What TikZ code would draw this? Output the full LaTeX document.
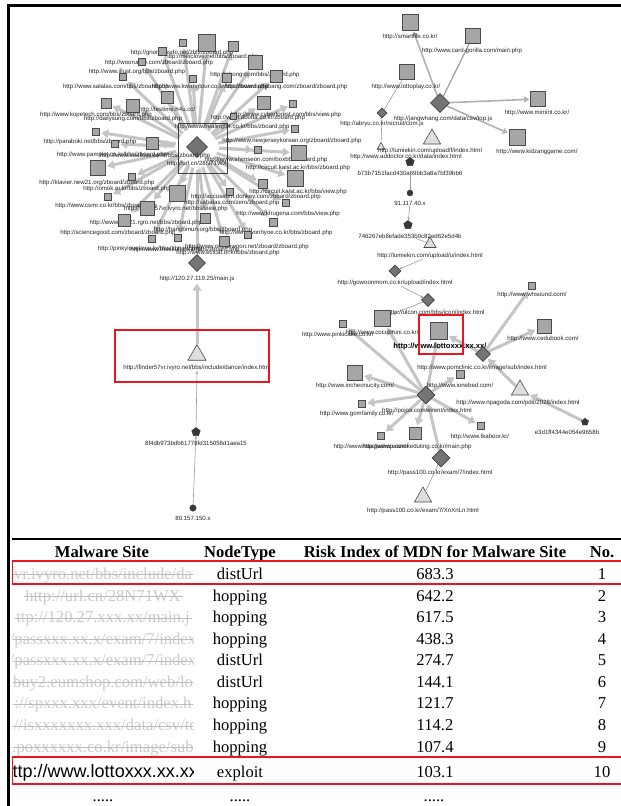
\documentclass[tikz,border=0pt]{standalone}
\usepackage{fontspec}
\setmainfont{Liberation Serif}
\newfontfamily\lblfamily{Liberation Sans}
\usetikzlibrary{shapes.geometric,arrows.meta,backgrounds}

\definecolor{sqfill}{HTML}{A6A6A6}
\definecolor{sqedge}{HTML}{4A4A4A}
\definecolor{diafill}{HTML}{747474}
\definecolor{diaedge}{HTML}{404040}
\definecolor{trifill}{HTML}{DEDEDE}
\definecolor{darknode}{HTML}{383838}
\definecolor{spokecol}{HTML}{C5C5C5}
\definecolor{linkcol}{HTML}{9C9C9C}
\definecolor{lbltext}{HTML}{222222}
\definecolor{fadetext}{HTML}{CACACA}
\definecolor{fadestrike}{HTML}{BDBDBD}
\definecolor{markred}{HTML}{E8161E}

\newcommand\lblfont{\lblfamily\fontsize{6.1}{6.5}\selectfont}
\newcommand\cellfont{\fontsize{16.6}{18}\selectfont}
% graph label: name, x, y, text
\newcommand\gl[4]{\node[lbl] (#1) at (#2,#3) {#4};}
% faded site name in the first table column: name, baseline y, text
\newcommand\fadecell[3]{\node[fade] (#1) at (103,#2) {#3};
  \draw[strike] ([yshift=4.4pt,xshift=-1pt]#1.base west) -- ([yshift=4.4pt,xshift=2pt]#1.base east);}

\tikzset{
  sq/.style={rectangle, draw=sqedge, fill=sqfill, line width=0.6pt, inner sep=0pt, minimum size=#1},
  dia/.style={diamond, draw=diaedge, fill=diafill, line width=0.6pt, inner sep=0pt, minimum size=#1},
  tri/.style={regular polygon, regular polygon sides=3, draw=sqedge, fill=trifill, line width=0.6pt, inner sep=0pt, minimum size=#1},
  pent/.style={regular polygon, regular polygon sides=5, draw=darknode, fill=darknode, inner sep=0pt, minimum size=#1},
  dotnode/.style={circle, draw=darknode, fill=darknode, inner sep=0pt, minimum size=#1},
  lbl/.style={font=\lblfont, text=lbltext, inner sep=0pt},
  boldlbl/.style={font=\lblfamily\fontsize{7.6}{8}\bfseries, text=black, inner sep=0pt},
  spoke/.style={line width=3pt, draw=spokecol, -{Triangle[length=7pt,width=8.5pt]}, shorten >=1.5pt},
  midlink/.style={line width=1.6pt, draw=spokecol!90!black, -{Triangle[length=5pt,width=6pt]}, shorten >=1pt},
  thinlink/.style={line width=0.6pt, draw=linkcol, -{Stealth[length=3pt,width=2.6pt]}},
  plainlink/.style={line width=0.6pt, draw=linkcol},
  redbox/.style={draw=markred, line width=1.9pt, inner sep=0pt},
  hdr/.style={font=\cellfont\bfseries, anchor=base, inner sep=0pt},
  cell/.style={font=\cellfont, anchor=base, inner sep=0pt},
  fade/.style={font=\cellfont, text=fadetext, anchor=base, inner sep=0pt},
  strike/.style={draw=fadestrike, line width=0.7pt},
  redline/.style={draw=markred, line width=1.9pt},
}

\begin{document}
\begin{tikzpicture}[x=1pt,y=-1pt]
\useasboundingbox (0,0) rectangle (621,806);

% ---------- outer frame ----------
\draw[line width=3pt] (621,5.8) -- (8.7,5.8) -- (8.7,806);

% ---------- left cluster: hub and its targets ----------
\node[dia=21pt] (hub) at (197,147) {};
\node[draw=diaedge, line width=0.7pt, minimum width=49pt, minimum height=50pt, inner sep=0pt] (hubbox) at (202.5,148) {};

% labels of the left cluster
\gl{la1}{182}{53}{http://gnomunsdo.net/zbfz/zboard.php}
\gl{la2}{212}{57}{http://meiclove.net/bbs/zboard.php}
\gl{la3}{159}{63}{http://woorundo.com/zboard/zboard.php}
\gl{la4}{137}{72}{http://www.illust.org/bbs/zboard.php}
\gl{la5}{255}{75}{http://phong.com/bbs/zboard.php}
\gl{la6}{116}{87}{http://www.salalas.com/bbs/zboard.php}
\gl{la7}{210}{87}{http://www.kwangtour.co.kr/bbs/zboard.php}
\gl{la8}{286}{87}{http://www.nadabang.com/zboard/zboard.php}
\gl{la9}{167}{110}{http://testime.n4u.cc/}
\gl{la10}{96}{115}{http://www.kopetech.com/bbs/zboard.php}
\gl{la11}{133}{119}{http://dailysung.com/bbs/zboard.php}
\gl{la12}{286}{115}{http://www.cyberforest.com/bbs/view.php}
\gl{la13}{258}{118}{http://www.aboda.co.kr/zboard.php}
\gl{la14}{232}{127}{http://www.healing04.co.kr/bbs/zboard.php}
\gl{la15}{90}{142}{http://paraboki.net/bbs/zboard.php}
\gl{la16}{292}{141}{http://www.newjerseykorean.org/zboard/zboard.php}
\gl{la17}{112}{155}{http://www.pamplot.co.kr/bbs/zboard.php}
\gl{la18}{155}{156}{http://www.soulkiss.co.kr/bbs/zboard.php}
\gl{la19}{266}{160}{http://www.shimseon.com/boxbbs/zboard.php}
\gl{hublbl}{197}{164}{http://url.cn/28N71WX}
\gl{la20}{298}{168}{http://circuit.kaist.ac.kr/bbs/zboard.php}
\gl{la21}{97}{183}{http://klavier.new21.org/zboard/zboard.php}
\gl{la22}{127}{189}{http://omok.or.kr/bbs/zboard.php}
\gl{la23}{298}{192}{http://circuit.kaist.ac.kr/bbs/view.php}
\gl{la24}{256}{197}{http://accuseum.donkey.com/zboard/zboard.php}
\gl{la25}{106}{206}{http://www.csmr.co.kr/bbs/zboard.php}
\gl{la26}{232}{203}{http://sabalas.com/zero/zboard.php}
\gl{la27}{176}{209}{http://finder57vr.ivyro.net/bbs/view.php}
\gl{la28}{288}{214}{http://www.khugena.com/bbs/view.php}
\gl{la29}{146}{223}{http://www.cos21.rgro.net/bbs/zboard.php}
\gl{la30}{118}{233}{http://sciencegood.com/zboard/zboard.php}
\gl{la31}{203}{230}{http://hangomun.org/bbs/zboard.php}
\gl{la32}{276}{233}{http://www.wonhyoe.co.kr/bbs/zboard.php}
\gl{la33}{247}{247}{http://www.onsaewoon.net/zboard/zboard.php}
\gl{la34}{150}{249}{http://pinkylovela.co.kr/bbs/zboard.php}
\gl{la35}{185}{250}{http://www.theskull.co.kr/bbs/zboard.php}
\gl{la36}{228}{253}{http://www.ecicat.or.kr/bbs/zboard.php}

\foreach \n/\x/\y/\s in {
  1/207/43/17, 2/183/43/7, 3/233/46/10, 4/162/51/8, 5/255/62/14,
  6/142/62/7, 7/123/77/7, 8/193/79/7, 9/227/78/9, 10/276/76/12,
  11/167/97/12, 12/106/103/10, 13/133/106/13, 14/264/103/13, 15/293/104/7,
  16/96/132/7, 17/295/129/7, 18/152/143/12, 19/115/144/7, 20/258/150/7,
  21/299/153/15, 22/98/168/15, 23/295/178/16, 24/132/177/7, 25/177/193/16,
  26/263/184/9, 27/108/197/7, 28/230/192/7, 29/147/208/14, 30/286/203/7,
  31/205/218/10, 32/124/220/12, 33/273/222/8, 34/152/239/7, 35/178/238/7,
  36/248/235/7, 37/224/241/10, 38/233/116/6}
  \node[sq=\s pt] (s\n) at (\x,\y) {};

% ---------- left chain below the hub ----------
\node[dia=17pt] (mainjs) at (197,263) {};
\gl{mainjslbl}{197}{279}{http://120.27.119.25/main.js}
\node[tri=21pt] (finder) at (197,355) {};
\gl{finderlbl}{197}{368}{http://finder57vr.ivyro.net/bbs/include/dance/index.html}
\node[redbox, minimum width=154pt, minimum height=52pt] (redA) at (192,356) {};
\node[pent=9pt] (p8f) at (196,432) {};
\gl{p8flbl}{196}{443}{8f4db973bdb61778fd315058d1aea15}
\node[dotnode=6.5pt] (c80) at (193,508) {};
\gl{c80lbl}{193}{518}{80.157.150.x}

% ---------- right cluster, upper part ----------
\node[sq=16pt] (smart) at (410,22) {};
\node[sq=15pt] (card) at (473,36) {};
\node[sq=15pt] (lplay) at (407,72) {};
\node[dia=19pt] (jang) at (440,103) {};
\node[sq=15pt] (mimint) at (538,99) {};
\node[sq=16pt] (kidz) at (517,137) {};
\node[dia=10pt] (abryu) at (382,113) {};
\node[tri=9pt] (addoc) at (381,147) {};
\node[tri=20pt] (lumf) at (432,139) {};
\node[pent=9pt] (p1) at (410,162) {};
\node[dotnode=6pt] (c1) at (410,193) {};
\node[pent=9pt] (p2) at (408,225) {};
\node[tri=14pt] (lumu) at (430,244) {};

\gl{smartlbl}{410}{37}{http://smartfile.co.kr/}
\gl{cardlbl}{472}{51}{http://www.card-gorilla.com/main.php}
\gl{lplaylbl}{406}{87}{http://www.lottoplay.co.kr/}
\gl{janglbl}{443}{119}{http://jangwhang.com/data/csv/top.js}
\gl{abryulbl}{382}{124}{http://abryu.co.kr/recruit/com.js}
\gl{mimintlbl}{537}{113}{http://www.mimint.co.kr/}
\gl{lumflbl}{430}{151}{http://lumiekin.com/upload/f/index.html}
\gl{kidzlbl}{537}{152}{http://www.kidzanggame.com/}
\gl{addoclbl}{406}{157}{http://www.addoctor.co.kr/data/index.html}
\gl{p1lbl}{410}{173}{b73b7151facd430a69bb3a8a7bf39bb6}
\gl{c1lbl}{410}{203}{91.117.40.x}
\gl{p2lbl}{410}{236}{746267eb8efade353b0c82ed62e5d4b}
\gl{lumulbl}{430}{256}{http://lumiekin.com/upload/u/index.html}

% ---------- right cluster, lower part ----------
\gl{gowoonlbl}{395}{283}{http://gowoonmom.co.kr/upload/index.html}
\gl{ulconlbl}{436}{313}{http://ulcon.com/bbs/icon/index.html}
\gl{pinkilbl}{338}{335}{http://www.pinkicake.co.kr/}
\gl{cocolbl}{382}{333}{http://www.cocobruni.co.kr/}
\gl{whslbl}{532}{295}{http://www.whsound.com/}
\gl{cedulbl}{543}{339}{http://www.cedubook.com/}
\gl{pomlbl}{482}{368}{http://www.pomclinic.co.kr/image/sub/index.html}
\gl{inchlbl}{355}{386}{http://www.incheonucity.com/}
\gl{ioneblbl}{460}{386}{http://www.ionebed.com/}
\gl{npaglbl}{518}{403}{http://www.npagoda.com/pds/2028/index.html}
\gl{e3dlbl}{567}{432}{e3d1ff4344e054e9658b}
\gl{gomflbl}{357}{414}{http://www.gomfamily.co.kr/}
\gl{pojoalbl}{427}{411}{http://pojoa.com/event/index.html}
\gl{tkablbl}{480}{437}{http://www.tkaboor.kr/}
\gl{haaglbl}{371}{447}{http://www.haagashop.com/}
\gl{wanolbl}{417}{447}{http://www.wanokeduting.co.kr/main.php}
\gl{pass7lbl}{440}{473}{http://pass100.co.kr/exam/7/index.html}
\gl{passxlbl}{423}{511}{http://pass100.co.kr/exam/7/XnXnLn.html}

\node[dia=12pt] (gowoon) at (395,271) {};
\node[dia=13pt] (ulcon) at (428,300) {};
\node[sq=16pt] (coco) at (382,318) {};
\node[sq=7pt] (pinki) at (343,324) {};
\node[sq=17pt] (lotto) at (439,331) {};
\node[boldlbl] (lottolbl) at (440,347) {http://www.lottoxxx.xx.xx/};
\node[redbox, minimum width=44pt, minimum height=39pt] (redB) at (441,334.5) {};
\node[dia=15pt] (pom) at (483,354) {};
\node[sq=7pt] (whs) at (532,286) {};
\node[sq=14pt] (cedu) at (544,326) {};
\node[sq=15pt] (inch) at (355,373) {};
\node[sq=8pt] (ioneb) at (460,374) {};
\node[dia=18pt] (pojoa) at (426,395) {};
\node[tri=20pt] (npag) at (520,390) {};
\node[pent=7.5pt] (e3d) at (585,422) {};
\node[sq=7pt] (gomf) at (362,404) {};
\node[sq=7pt] (haag) at (381,436) {};
\node[sq=12pt] (wano) at (415,433) {};
\node[sq=7pt] (tkab) at (481,426) {};
\node[dia=18pt] (pass7) at (441,458) {};
\node[tri=20pt] (passx) at (423,497) {};

% ---------- connectors (behind the nodes) ----------
\begin{pgfonlayer}{background}
  \foreach \n in {1,...,38}
    \draw[spoke, shorten <=12pt] (hub) -- (s\n);
  \draw[spoke, -, shorten <=12pt] (hub) -- (mainjs);
  \fill[white] (hub) circle (15pt);
  \draw[spoke] (finder.north) -- (mainjslbl.south);
  \draw[thinlink] (p8f) -- (finderlbl.south);
  \draw[thinlink] (c80) -- (p8f);

  \draw[midlink] (jang) -- (smart);
  \draw[plainlink, line width=1.2pt] (jang) -- (card);
  \draw[midlink] (jang) -- (mimint);
  \draw[midlink] (jang) -- (kidz);
  \draw[plainlink] (abryu) -- (lplay);
  \draw[plainlink] (abryu) -- (addoc);
  \draw[plainlink] (p1lbl) -- (c1);
  \draw[thinlink] (c1lbl) -- (p2);
  \draw[plainlink] (p2lbl) -- (lumu);
  \draw[thinlink] (lumulbl) -- (gowoon);
  \draw[thinlink] (gowoonlbl) -- (ulcon);
  \draw[plainlink] (ulcon) -- (coco);

  \draw[spoke] (pom) -- (whs);
  \draw[spoke] (pom) -- (cedu);
  \draw[spoke] (pom) -- (lotto);
  \draw[spoke] (e3d) -- (npag);
  \draw[spoke] (npag) -- (pom);
  \foreach \t in {inch,gomf,haag,wano,tkab,pinki,coco,lotto,ioneb}
    \draw[spoke] (pojoa) -- (\t);
  \draw[spoke] (pass7) -- (pojoa);
  \draw[plainlink] (passx) -- (pass7);
\end{pgfonlayer}

% ---------- table ----------
\draw[line width=1.2pt] (12,539) -- (621,539);
\node[hdr] (hsite) at (102,557) {Malware Site};
\node[hdr] (htype) at (240,557) {NodeType};
\node[hdr] (hrisk) at (435,557) {Risk Index of MDN for Malware Site};
\node[hdr] (hno) at (602,557) {No.};

\foreach \i/\y/\t/\v in {1/579/distUrl/683.3, 2/601/hopping/642.2,
    3/622.6/hopping/617.5, 4/644.2/hopping/438.3, 5/665.6/distUrl/274.7,
    6/687.2/distUrl/144.1, 7/708.8/hopping/121.7, 8/730.4/hopping/114.2,
    9/752/hopping/107.4, 10/777.5/exploit/103.1} {
  \node[cell] (type\i) at (240,\y) {\t};
  \node[cell] (risk\i) at (435,\y) {\v};
  \node[cell] (no\i) at (602,\y) {\i};
}

\begin{scope}
  \clip (12.5,562) rectangle (193,790);
  \fadecell{site1}{579}{vr.ivyro.net/bbs/include/da}
  \fadecell{site2}{601}{http://url.cn/28N71WX}
  \fadecell{site3}{622.6}{ttp://120.27.xxx.xx/main.j}
  \fadecell{site4}{644.2}{/passxxx.xx.x/exam/7/index}
  \fadecell{site5}{665.6}{/passxxx.xx.x/exam/7/index}
  \fadecell{site6}{687.2}{buy2.eumshop.com/web/lo}
  \fadecell{site7}{708.8}{://spxxx.xxx/event/index.h}
  \fadecell{site8}{730.4}{://isxxxxxxx.xxx/data/csv/tc}
  \fadecell{site9}{752}{.poxxxxxx.co.kr/image/sub}
  \node[font=\lblfamily\fontsize{18}{20}\selectfont, anchor=base west, inner sep=0pt] (site10) at (2.5,777.5) {http://www.lottoxxx.xx.xx/};
\end{scope}

\draw[redline] (621,561) -- (12.5,561) -- (12.5,584) -- (621,584);
\draw[redline] (621,757) -- (12.5,757) -- (12.5,784) -- (621,784);

\node[cell] (more1) at (103,801) {.....};
\node[cell] (more2) at (240,801) {.....};
\node[cell] (more3) at (434,801) {.....};
\end{tikzpicture}
\end{document}
